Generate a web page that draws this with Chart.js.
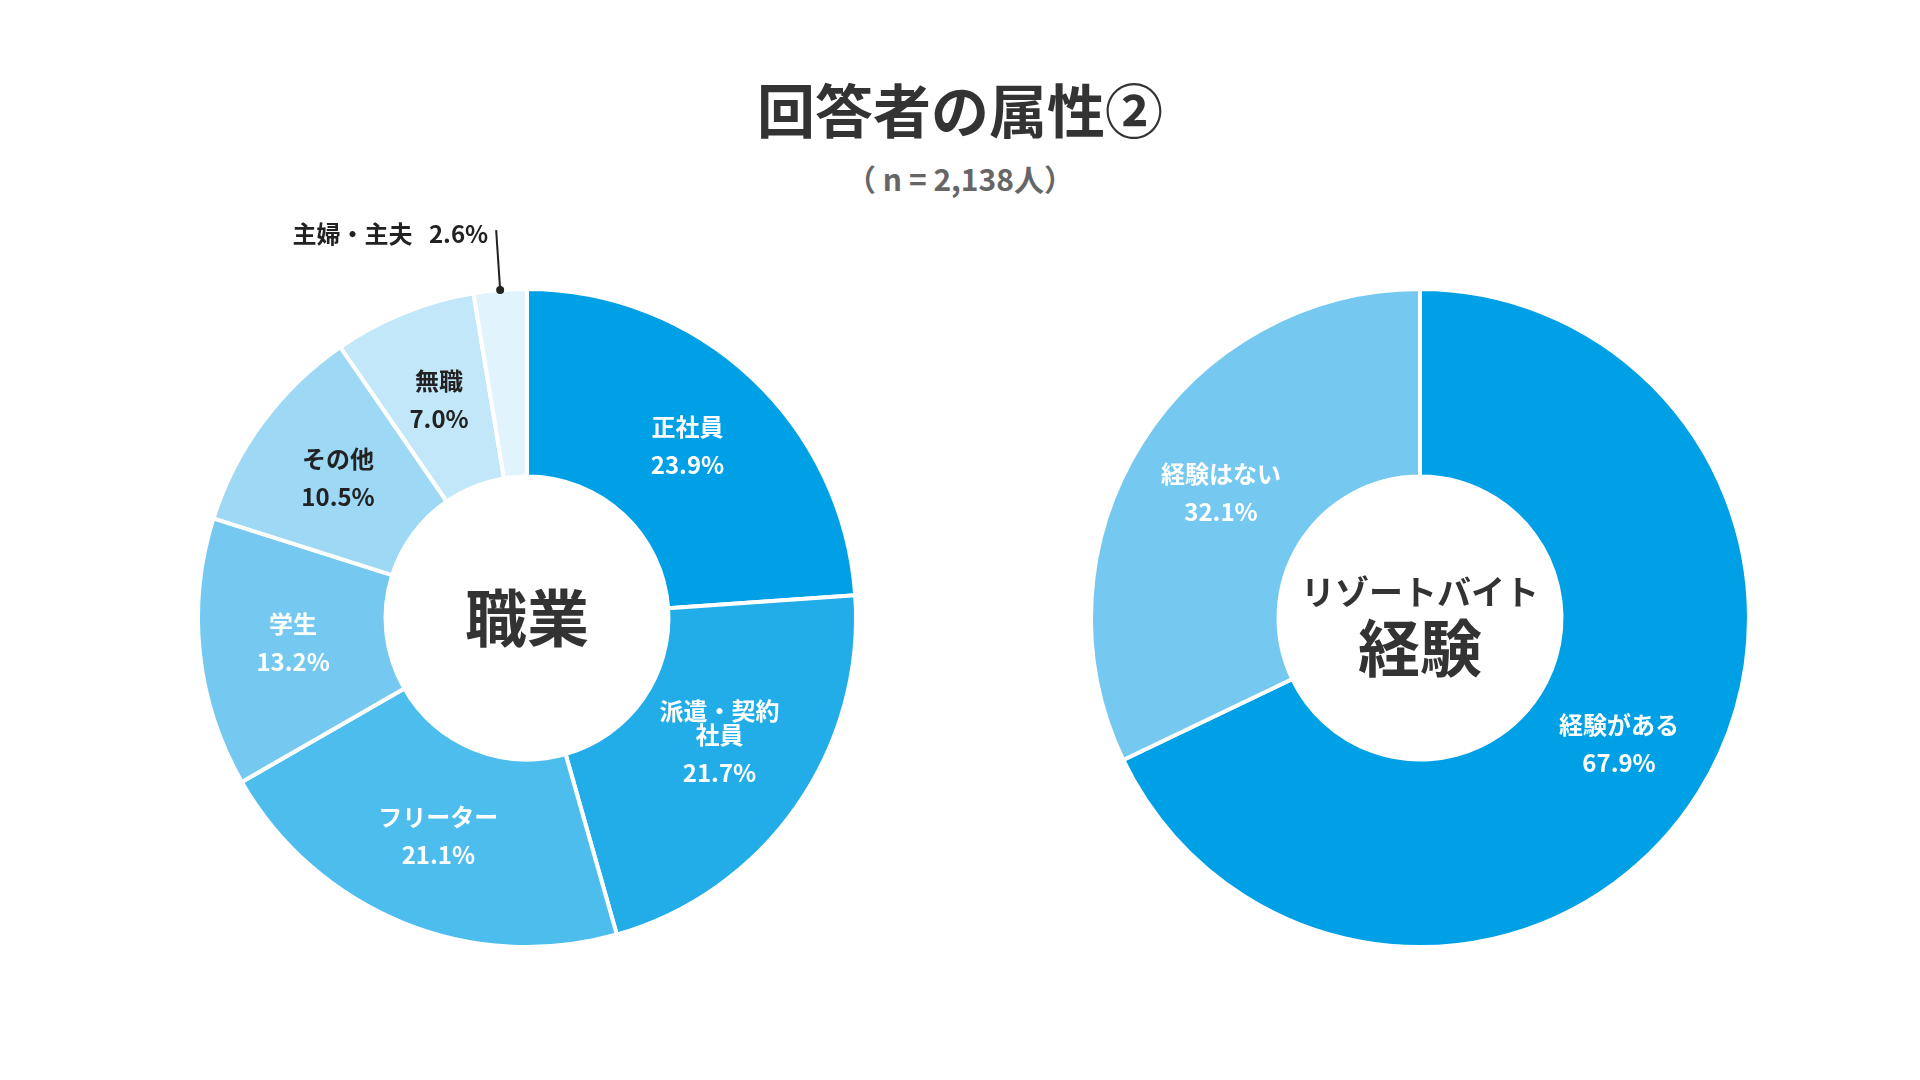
<!DOCTYPE html>
<html>
<head>
<meta charset="utf-8">
<script src="https://cdn.jsdelivr.net/npm/chart.js@4"></script>
<style>
  body { margin: 0; width: 1920px; height: 1080px; background: #fff; font-family: "Noto Sans CJK JP", sans-serif; overflow: hidden; }
  h1 { position: absolute; top: 66px; left: 0; width: 1920px; margin: 0; text-align: center; font-size: 58px; font-weight: 700; color: #333; }
  .sub { position: absolute; top: 156px; left: 0; width: 1920px; text-align: center; font-size: 30px; font-weight: 700; color: #666; }
  .box { position: absolute; width: 800px; height: 800px; }
</style>
</head>
<body>
<h1>回答者の属性②</h1>
<div class="sub">（ n = 2,138人）</div>
<div class="box" style="left:127px; top:218px;"><canvas id="jobChart"></canvas></div>
<div class="box" style="left:1020px; top:218px;"><canvas id="expChart"></canvas></div>
<script>
const jobLabels = [['正社員'], ['派遣・契約', '社員'], ['フリーター'], ['学生'], ['その他'], ['無職'], ['主婦・主夫']];
const jobValues = [23.9, 21.7, 21.1, 13.2, 10.5, 7.0, 2.6];
const jobColors = ['#00a0e6', '#22ace8', '#4dbdee', '#75c9f1', '#9dd8f5', '#c2e7f9', '#e1f3fc'];
const jobTextColors = ['#fff', '#fff', '#fff', '#fff', '#222', '#222', '#222'];

const expLabels = [['経験がある'], ['経験はない']];
const expValues = [67.9, 32.1];
const expColors = ['#00a0e6', '#75c9f1'];
const expTextColors = ['#fff', '#fff'];

const FONT = '"Noto Sans CJK JP", sans-serif';

const sliceLabels = {
    id: 'sliceLabels',
    afterDatasetsDraw(chart, args, opts) {
        const ctx = chart.ctx;
        const meta = chart.getDatasetMeta(0);
        ctx.save();
        ctx.textAlign = 'center';
        ctx.textBaseline = 'middle';
        meta.data.forEach((arc, i) => {
            const lines = opts.labels[i];
            const val = chart.data.datasets[0].data[i].toFixed(1) + '%';
            if (opts.callout === i) {
                const a = (arc.startAngle + arc.endAngle) / 2;
                const x0 = arc.x + Math.cos(a) * arc.outerRadius;
                const y0 = arc.y + Math.sin(a) * arc.outerRadius;
                ctx.strokeStyle = '#222';
                ctx.lineWidth = 2;
                ctx.beginPath();
                ctx.moveTo(x0, y0);
                ctx.lineTo(x0 - 4, y0 - 60);
                ctx.stroke();
                ctx.fillStyle = '#222';
                ctx.beginPath();
                ctx.arc(x0, y0, 4, 0, Math.PI * 2);
                ctx.fill();
                ctx.font = '700 24px ' + FONT;
                ctx.textAlign = 'right';
                ctx.fillText(lines[0] + '   ' + val, x0 - 12, y0 - 56);
                ctx.textAlign = 'center';
                return;
            }
            const a = (arc.startAngle + arc.endAngle) / 2;
            const r = (arc.innerRadius + arc.outerRadius) / 2;
            const x = arc.x + Math.cos(a) * r;
            const y = arc.y + Math.sin(a) * r;
            ctx.fillStyle = opts.colors[i];
            ctx.font = '700 24px ' + FONT;
            if (lines.length > 1) {
                ctx.fillText(lines[0], x, y - 42);
                ctx.fillText(lines[1], x, y - 18);
                ctx.fillText(val, x, y + 20);
            } else {
                ctx.fillText(lines[0], x, y - 19);
                ctx.fillText(val, x, y + 19);
            }
        });
        // center text
        const c = meta.data[0];
        ctx.fillStyle = '#333';
        opts.center.forEach(t => {
            ctx.font = '700 ' + t.size + 'px ' + FONT;
            ctx.fillText(t.text, c.x, c.y + t.dy);
        });
        ctx.restore();
    }
};

function makeDonut(id, labels, values, colors, textColors, center, callout) {
    new Chart(document.getElementById(id), {
        type: 'doughnut',
        data: {
            labels: labels.map(l => l.join('')),
            datasets: [{ data: values, backgroundColor: colors, borderColor: '#fff', borderWidth: 4 }]
        },
        options: {
            responsive: true,
            maintainAspectRatio: true,
            animation: false,
            cutout: '43%',
            layout: { padding: 69 },
            plugins: {
                legend: { display: false },
                tooltip: { enabled: false },
                sliceLabels: { labels: labels, colors: textColors, center: center, callout: callout }
            }
        },
        plugins: [sliceLabels]
    });
}

makeDonut('jobChart', jobLabels, jobValues, jobColors, jobTextColors,
    [{ text: '職業', size: 62, dy: 0 }], 6);
makeDonut('expChart', expLabels, expValues, expColors, expTextColors,
    [{ text: 'リゾートバイト', size: 34, dy: -26 }, { text: '経験', size: 62, dy: 30 }], -1);
</script>
</body>
</html>
